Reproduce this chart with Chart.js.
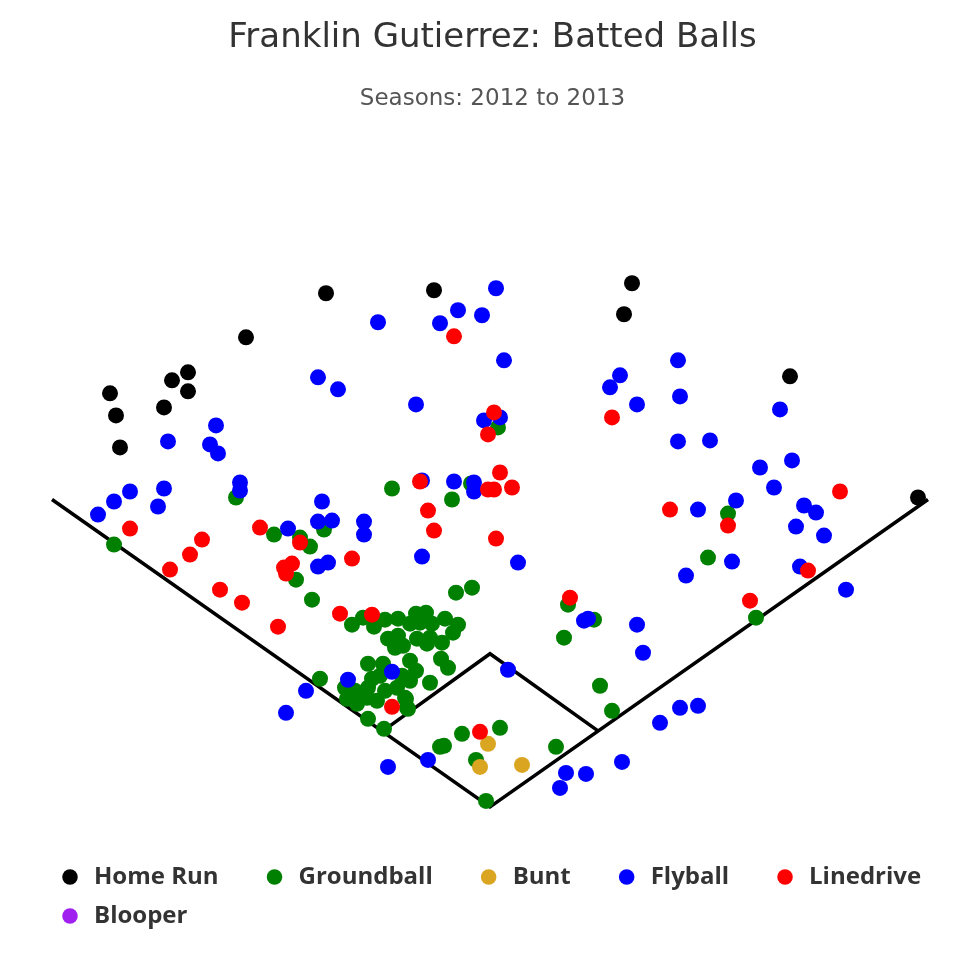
<!DOCTYPE html>
<html>
<head>
<meta charset="utf-8">
<script src="https://cdn.jsdelivr.net/npm/chart.js@4/dist/chart.umd.min.js"></script>
<style>
  html, body { margin: 0; padding: 0; background: #ffffff; }
  #wrap { width: 980px; height: 980px; position: relative; }
</style>
</head>
<body>
<div id="wrap"><canvas id="c"></canvas></div>
<script>
// Hit coordinates (hc_x, hc_y), y grows toward home plate
const categories = ["Home Run", "Groundball", "Bunt", "Flyball", "Linedrive", "Blooper"];
const categoryColors = ["#000000", "#008000", "#DAA520", "#0000FF", "#FF0000", "#A020F0"];

const homeRun = [[326,293],[246,337],[188,372],[172,380],[188,391],[110,393],[164,407],[116,415],[120,447],
  [434,290],[632,283],[624,314],[790,376],[918,497]];

const groundball = [[236,497],[114,544],[274,534],[300,537],[310,546],[324,529],[296,579],[312,599],[392,488],
  [452,499],[471,483],[498,427],[456,592],[472,587],[568,604],[594,619],[564,637],[600,685],[612,710],
  [556,746],[728,513],[708,557],[756,617],[320,678],[352,624],
  [440,746],[444,745],[462,733],[500,727],[476,759],[486,800],[430,682],[408,708],[406,698],[368,718],[384,728],
  [363,617],[374,626],[385,619],[398,618],[410,623],[416,613],[426,612],[420,622],[432,623],[445,618],
  [458,624],[453,632],[388,638],[398,635],[403,645],[395,647],[417,638],[427,643],[430,637],[442,642],
  [441,658],[448,667],[368,663],[383,663],[410,660],[416,670],[410,680],[345,687],[355,690],
  [347,698],[357,703],[368,687],[372,678],[377,700],[367,697],[385,690],[397,687],[405,697],[407,707],
  [402,675],[380,675]];

const bunt = [[488,743],[480,766],[522,764]];

const flyball = [[318,377],[338,389],[216,425],[168,441],[210,444],[218,453],
  [496,288],[458,310],[378,322],[440,323],[482,315],[504,360],[416,404],[484,420],[500,417],
  [620,375],[610,387],[637,404],
  [678,360],[680,396],[678,441],[710,440],[780,409],[760,467],[792,460],
  [98,514],[114,501],[130,491],[164,488],[158,506],[240,482],[240,490],
  [288,528],[322,501],[318,521],[332,520],[318,566],[328,562],
  [422,480],[454,481],[474,482],[474,491],[364,521],[364,534],[422,556],[518,562],
  [584,620],[588,618],[637,624],[643,652],
  [774,487],[736,500],[698,509],[804,505],[816,512],[796,526],[824,535],[732,561],[686,575],[800,566],[846,589],
  [508,669],[392,671],[348,679],[306,690],[286,712],[388,766],[428,759],
  [566,772],[586,773],[560,787],[622,761],[660,722],[680,707],[698,705]];

const linedrive = [[454,336],[612,417],[494,412],[488,434],[500,472],[420,481],[488,489],[494,489],[512,487],
  [428,510],[434,530],[496,538],[352,558],
  [130,528],[202,539],[190,554],[170,569],[220,589],[242,602],[278,626],[260,527],[300,542],[284,567],[292,563],[286,573],
  [340,613],[372,614],[570,597],[670,509],[728,525],[840,491],[808,570],[750,600],[392,706],[480,731]];

const blooper = [];

// Field outline (same coordinate system)
const foulLines = [[52,499],[490,806],[928,499]];
const infieldLines = [[383,730],[490,653],[598,730]];

const seriesValues = [homeRun, groundball, bunt, flyball, linedrive, blooper];

const toXY = arr => arr.map(p => ({x: p[0], y: p[1]}));

const pointSets = categories.map((name, i) => ({
  type: 'scatter',
  label: name,
  data: toXY(seriesValues[i]),
  backgroundColor: categoryColors[i],
  borderColor: categoryColors[i],
  borderWidth: 0,
  pointStyle: 'circle',
  pointRadius: 8,
  pointHoverRadius: 8,
  order: categories.length - i
}));

const lineSets = [foulLines, infieldLines].map(arr => ({
  type: 'scatter',
  label: '__field',
  data: toXY(arr),
  showLine: true,
  borderColor: '#000000',
  borderWidth: 3.5,
  pointRadius: 0,
  pointHoverRadius: 0,
  fill: false,
  order: 20
}));

const legendGap = '\u00a0\u00a0\u00a0\u00a0\u2009';

new Chart(document.getElementById('c'), {
  type: 'scatter',
  data: { datasets: [...pointSets, ...lineSets] },
  options: {
    responsive: true,
    maintainAspectRatio: false,
    animation: false,
    devicePixelRatio: 1,
    events: [],
    layout: { padding: { left: 43, right: 38, top: 0, bottom: 42 } },
    scales: {
      x: { type: 'linear', min: 43, max: 942, display: false },
      y: { type: 'linear', min: 120, max: 849, reverse: true, display: false }
    },
    plugins: {
      title: {
        display: true,
        text: 'Franklin Gutierrez: Batted Balls',
        color: '#333333',
        font: { family: 'DejaVu Sans', size: 34, weight: 'normal' },
        padding: { top: 18, bottom: 10 }
      },
      subtitle: {
        display: true,
        text: 'Seasons: 2012 to 2013',
        color: '#555555',
        font: { family: 'DejaVu Sans', size: 23, weight: 'normal' },
        padding: { top: 16.4, bottom: 7.2 }
      },
      legend: {
        display: true,
        position: 'bottom',
        align: 'start',
        labels: {
          usePointStyle: true,
          boxHeight: 11,
          padding: 15,
          color: '#333333',
          font: { family: 'Open Sans', size: 24, weight: 'bold' },
          generateLabels: (chart) => {
            const items = Chart.defaults.plugins.legend.labels.generateLabels(chart)
              .filter(it => it.text !== '__field')
              .sort((a, b) => a.datasetIndex - b.datasetIndex);
            return items.map((it, i) => Object.assign(it, {
              text: i < 4 ? it.text + legendGap : it.text,
              lineWidth: 0
            }));
          }
        }
      },
      tooltip: { enabled: false }
    }
  }
});
</script>
</body>
</html>
